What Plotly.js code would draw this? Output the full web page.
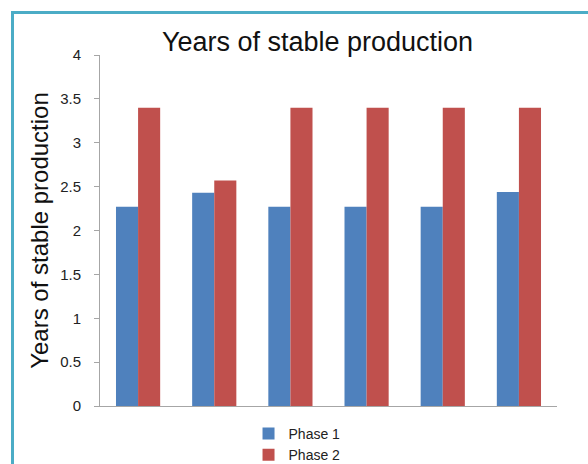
<!DOCTYPE html>
<html>
<head>
<meta charset="utf-8">
<script src="https://cdn.plot.ly/plotly-3.0.1.min.js"></script>
<style>
  html, body { margin: 0; padding: 0; background: #ffffff; }
  #wrap { position: relative; width: 588px; height: 464px; overflow: hidden; }
  #frame { position: absolute; left: 11px; top: 11px; width: 600px; height: 470px;
           border-left: 3px solid #4bacc6; border-top: 3px solid #4bacc6; }
  #chart { position: absolute; left: 0; top: 0; width: 588px; height: 464px; }
</style>
</head>
<body>
<div id="wrap">
  <div id="frame"></div>
  <div id="chart"></div>
</div>
<script>
const categories = ["A", "B", "C", "D", "E", "F"];
const phase1 = [2.27, 2.43, 2.27, 2.27, 2.27, 2.44];
const phase2 = [3.40, 2.57, 3.40, 3.40, 3.40, 3.40];
const yTicks = [0, 0.5, 1, 1.5, 2, 2.5, 3, 3.5, 4];
const yTickText = ["0", "0.5", "1", "1.5", "2", "2.5", "3", "3.5", "4"];

const font = "Liberation Sans, Arial, sans-serif";

const data = [
  { type: "bar", name: "Phase 1", x: categories, y: phase1,
    marker: { color: "#4f81bd" } },
  { type: "bar", name: "Phase 2", x: categories, y: phase2,
    marker: { color: "#c0504d" } }
];

const layout = {
  width: 588, height: 464,
  paper_bgcolor: "rgba(0,0,0,0)",
  plot_bgcolor: "rgba(0,0,0,0)",
  margin: { l: 100, r: 31, t: 55, b: 58, autoexpand: false },
  barmode: "group",
  bargap: 0.42,
  bargroupgap: 0,
  font: { family: font, size: 14, color: "#222222" },
  title: { text: "Years of stable production", font: { family: font, size: 27, color: "#111111" },
           x: 0.54, xanchor: "center", y: 0.91, yanchor: "middle" },
  xaxis: { showticklabels: false, showline: true, linecolor: "#a6a6a6", linewidth: 1,
           ticks: "", showgrid: false, zeroline: false },
  yaxis: { range: [0, 4], tickvals: yTicks, ticktext: yTickText, showline: true,
           linecolor: "#a6a6a6", linewidth: 1, ticks: "outside", ticklen: 5,
           tickcolor: "#a6a6a6", showgrid: false, zeroline: false, ticklabelstandoff: 10,
           automargin: true,
           tickfont: { family: font, size: 15, color: "#222222" },
           title: { text: "Years of stable production", font: { family: font, size: 24, color: "#111111" },
                    standoff: 4 } },
  showlegend: true,
  legend: { orientation: "v", x: 0.325, xanchor: "left", y: -0.034, yanchor: "top",
            font: { family: font, size: 14, color: "#222222" }, tracegroupgap: 0,
            bgcolor: "rgba(0,0,0,0)" }
};

Plotly.newPlot("chart", data, layout, { displayModeBar: false, staticPlot: true });
</script>
</body>
</html>
